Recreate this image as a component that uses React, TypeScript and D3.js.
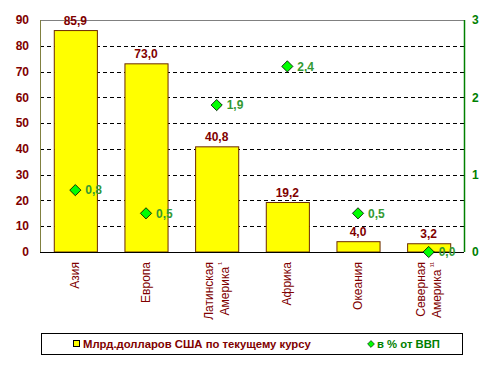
import React from 'react';
import * as d3 from 'd3';

const categories = ['Азия', 'Европа', 'Латинская Америка¹', 'Африка', 'Океания', 'Северная Америка¹¹'];
const labelLines = [['Азия'], ['Европа'], ['Латинская', 'Америка'], ['Африка'], ['Океания'], ['Северная', 'Америка']];
const labelMarks = ['', '', '¹', '', '', '¹¹'];
const billions = [85.9, 73.0, 40.8, 19.2, 4.0, 3.2];
const gdpShare = [0.8, 0.5, 1.9, 2.4, 0.5, 0.0];
const leftTicks = [0, 10, 20, 30, 40, 50, 60, 70, 80, 90];
const rightTicks = [0, 1, 2, 3];

const W = 493;
const H = 370;
const margin = { top: 20, right: 29, bottom: 118, left: 40 };
const RED = '#800000';
const GREEN = '#008000';
const font = 'Arial, "Liberation Sans", sans-serif';

const fmt = (v: number) => v.toFixed(1).replace('.', ',');

const App = () => {
    const x = d3.scaleBand<string>()
        .domain(categories)
        .range([margin.left, W - margin.right])
        .paddingInner(0.39)
        .paddingOuter(0.195);
    const y = d3.scaleLinear().domain([0, 90]).range([H - margin.bottom, margin.top]);
    const y2 = d3.scaleLinear().domain([0, 3]).range([H - margin.bottom, margin.top]);
    const left = margin.left;
    const right = W - margin.right;
    const bottom = H - margin.bottom;
    const cx = (c: string) => (x(c) as number) + x.bandwidth() / 2;
    const diamond = d3.symbol().type(d3.symbolDiamond2).size(80)();

    return (
        <svg width={W} height={H} style={{ position: 'absolute', left: 0, top: 0 }} fontFamily={font}>
            <rect width={W} height={H} fill="#fff" />
            {/* grid */}
            {leftTicks.filter(t => t > 0 && t < 90).map(t => (
                <line key={t} x1={left} x2={right} y1={Math.round(y(t)) + 0.5} y2={Math.round(y(t)) + 0.5}
                    stroke="#000" strokeDasharray="4,3" />
            ))}
            <line x1={left} x2={right} y1={margin.top + 0.5} y2={margin.top + 0.5} stroke="#808080" />
            {/* bars */}
            {categories.map((c, i) => (
                <g key={c}>
                    <rect x={(x(c) as number) + 0.5} y={y(billions[i])} width={x.bandwidth()} height={bottom - y(billions[i])}
                        fill="#ffff00" stroke="#6b2a00" strokeWidth={1} />
                    <text x={cx(c)} y={y(billions[i]) - 6} textAnchor="middle" fontSize={12} fontWeight="bold" fill={RED}>
                        {fmt(billions[i])}
                    </text>
                </g>
            ))}
            {/* axes */}
            <line x1={left + 0.5} x2={left + 0.5} y1={margin.top} y2={bottom} stroke="#808040" />
            <line x1={right + 0.5} x2={right + 0.5} y1={margin.top} y2={bottom} stroke={GREEN} strokeWidth={1.5} />
            <line x1={left} x2={right} y1={bottom + 0.5} y2={bottom + 0.5} stroke="#000" />
            {leftTicks.map(t => (
                <text key={t} x={29} y={y(t)} dy="0.35em" textAnchor="end" fontSize={12} fontWeight="bold" fill={RED}>{t}</text>
            ))}
            {rightTicks.map(t => (
                <text key={t} x={472} y={y2(t)} dy="0.35em" textAnchor="start" fontSize={12} fontWeight="bold" fill={GREEN}>{t}</text>
            ))}
            {/* share of GDP */}
            {categories.map((c, i) => (
                <g key={c + 'p'}>
                    <path d={diamond as string} transform={`translate(${cx(c)},${y2(gdpShare[i])})`}
                        fill="#00ff00" stroke="#000" strokeWidth={0.8} />
                    <text x={cx(c) + 10} y={y2(gdpShare[i])} dy="0.35em" fontSize={12} fill="#339933" fontWeight="bold">
                        {fmt(gdpShare[i])}
                    </text>
                </g>
            ))}
            {/* category labels */}
            {categories.map((c, i) => {
                const lines = labelLines[i];
                const px = cx(c);
                return lines.map((ln, j) => {
                    const off = lines.length === 1 ? 0 : (j === 0 ? -8 : 8);
                    return (
                        <text key={c + j} transform={`translate(${px + off + 4},${bottom + 10}) rotate(-90)`}
                            textAnchor="end" fontSize={12} fill={RED}>
                            {ln}
                            {j === lines.length - 1 && labelMarks[i] ? <tspan fontSize={8} dy={-5}>{' ' + labelMarks[i]}</tspan> : null}
                        </text>
                    );
                });
            })}
            {/* legend */}
            <rect x={41.5} y={333.5} width={421} height={21} fill="#fff" stroke="#000" />
            <rect x={73.5} y={340.5} width={6} height={6} fill="#ffff00" stroke="#000" />
            <text x={83} y={344} dy="0.35em" fontSize={11.3} fontWeight="bold" fill={RED}>Млрд.долларов США по текущему курсу</text>
            <path d={d3.symbol().type(d3.symbolDiamond2).size(30)() as string} transform="translate(371,344)" fill="#00ff00" stroke="#000" strokeWidth={0.6} />
            <text x={377} y={344} dy="0.35em" fontSize={11.3} fontWeight="bold" fill={GREEN}>в % от ВВП</text>
        </svg>
    );
};

export default App;
